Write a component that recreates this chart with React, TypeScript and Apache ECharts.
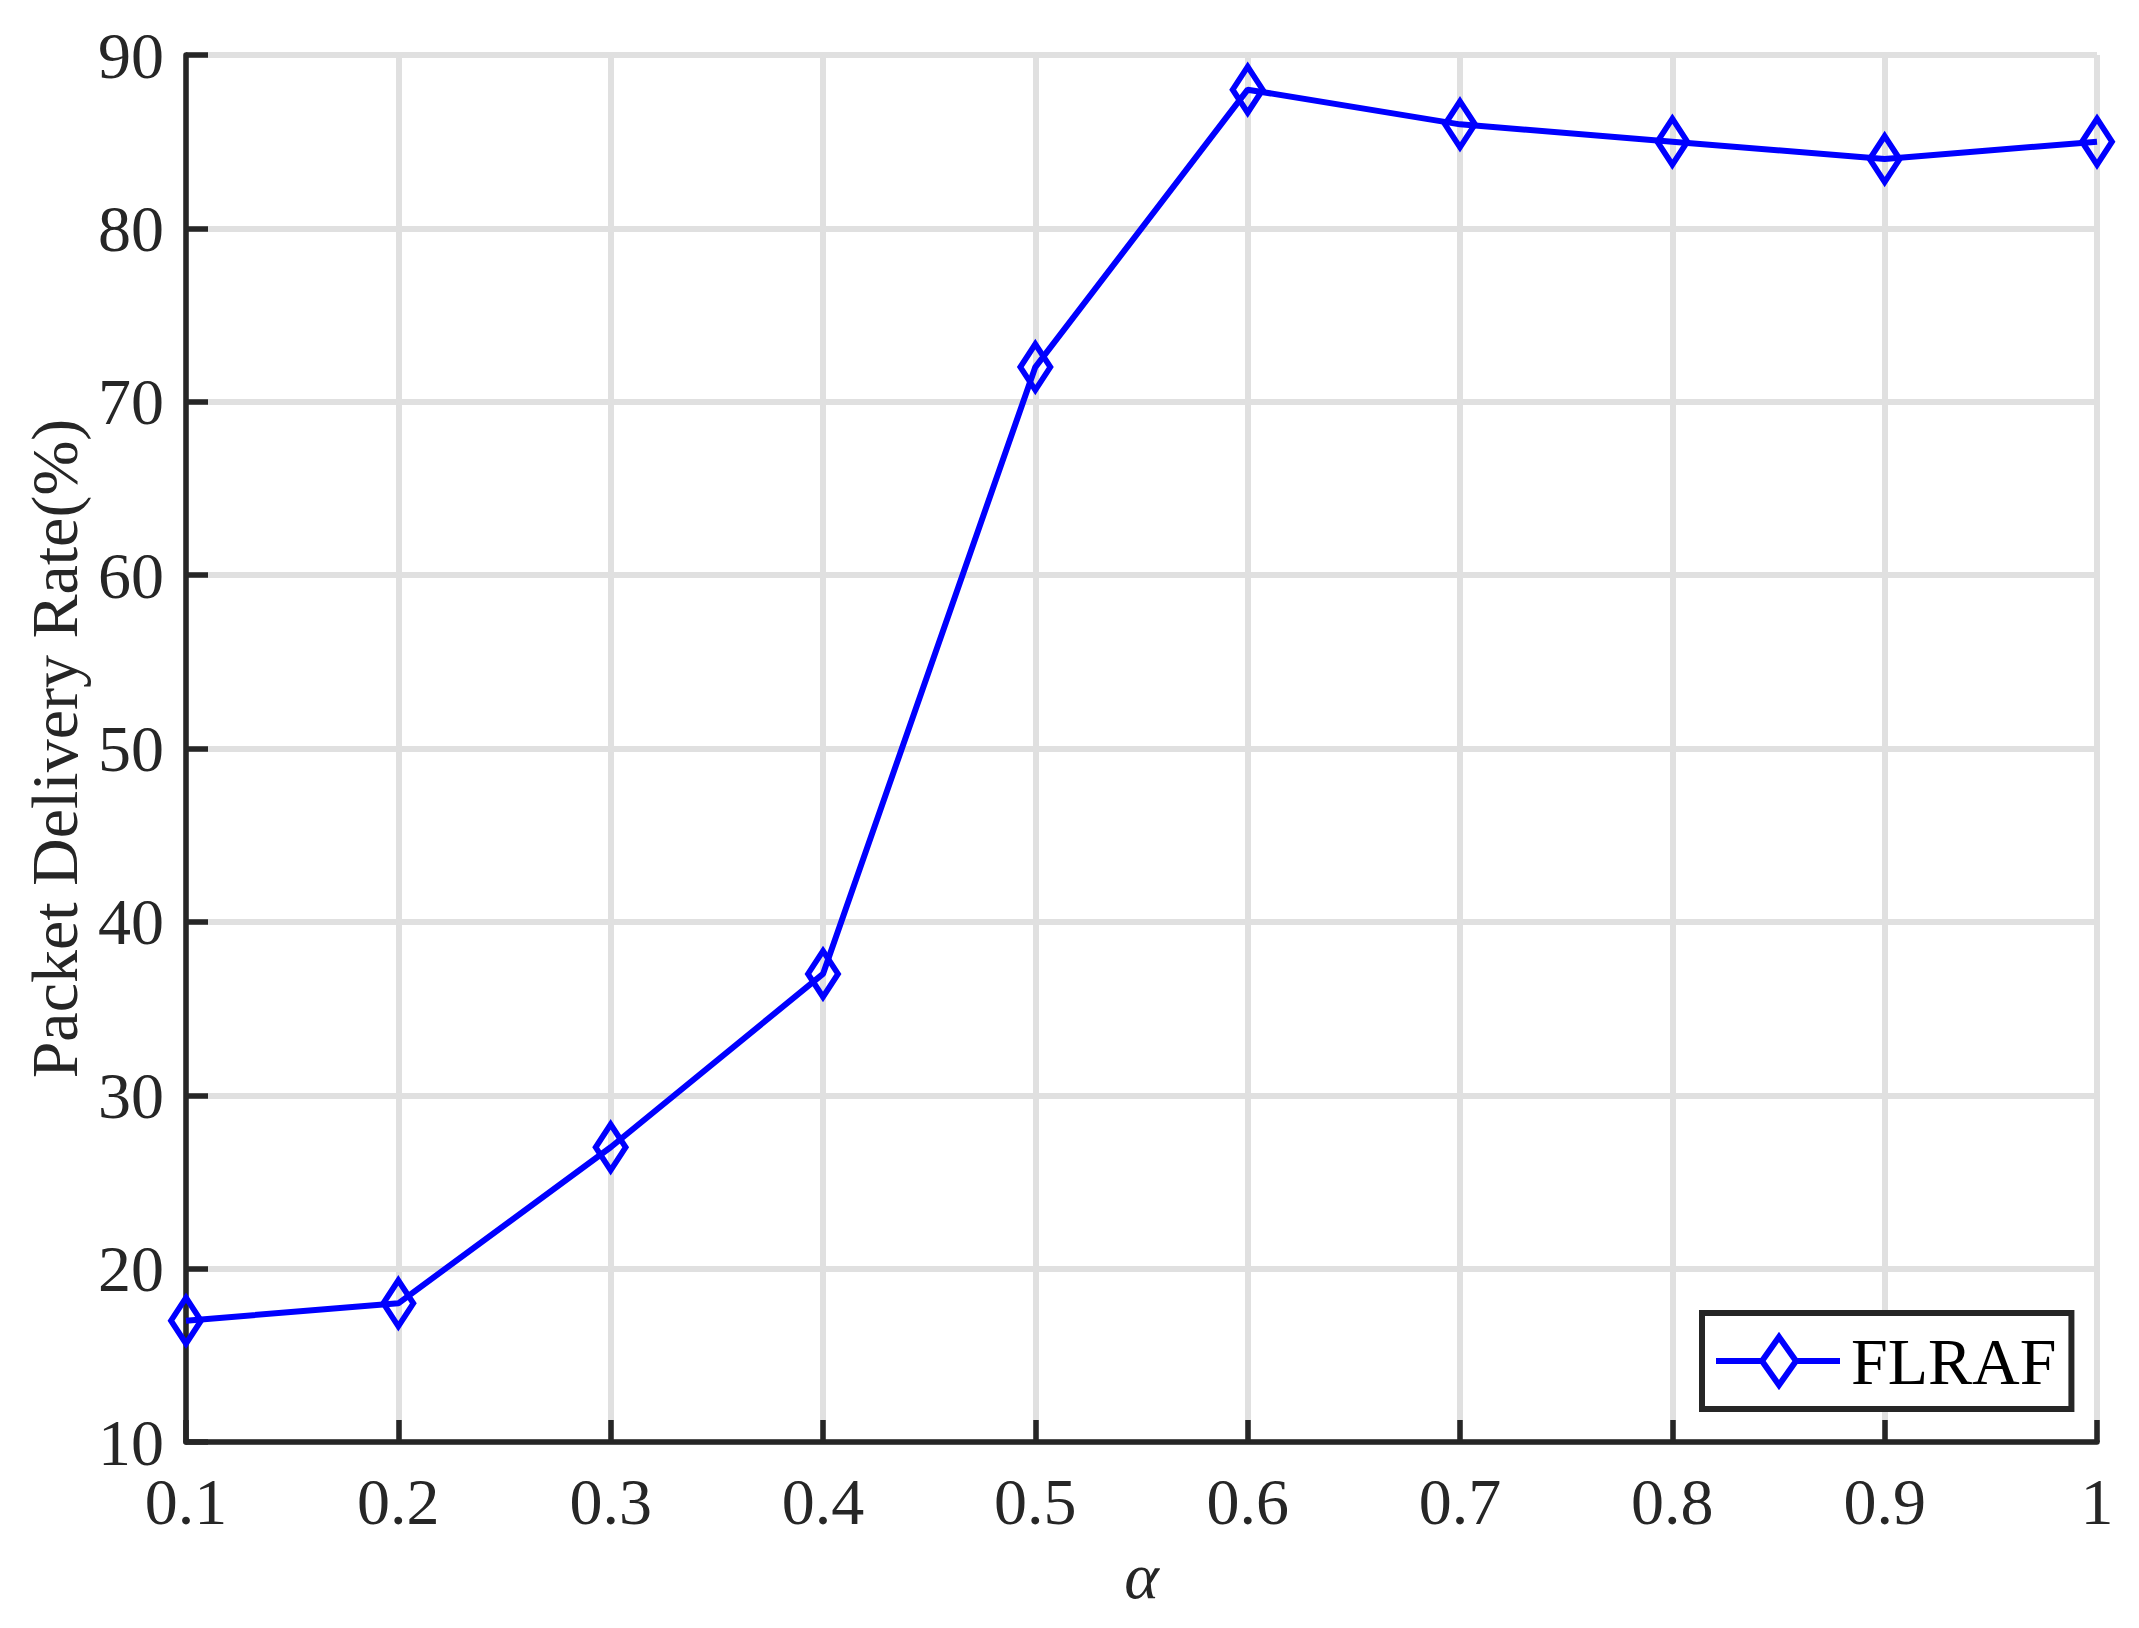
import React, { useEffect, useRef } from 'react';
import * as echarts from 'echarts';

const categories = ['0.1', '0.2', '0.3', '0.4', '0.5', '0.6', '0.7', '0.8', '0.9', '1'];
const flrafValues = [17, 18, 27, 37, 72, 88, 86, 85, 84, 85];
const seriesName = 'FLRAF';
const xAxisName = 'α';
const yAxisName = 'Packet Delivery Rate(%)';
const yMin = 10;
const yMax = 90;
const yInterval = 10;

const FONT = '"Liberation Serif", "Times New Roman", serif';
const AXIS_COLOR = '#262626';
const GRID_COLOR = '#e0e0e0';
const BLUE = '#0000ff';

export default function App() {
  const ref = useRef<HTMLDivElement>(null);

  useEffect(() => {
    document.body.style.margin = '0';
    if (!ref.current) return;
    const chart = echarts.init(ref.current, null, { renderer: 'svg' });
    chart.setOption({
      animation: false,
      backgroundColor: '#ffffff',
      grid: { left: 186, right: 42, top: 55, bottom: 186, containLabel: false },
      legend: {
        show: true,
        left: 1702,
        top: 1313,
        orient: 'horizontal',
        data: [
          {
            name: seriesName,
            icon: 'path://M0,26 L46,26 M63,2 L80,26 L63,50 L46,26 Z M80,26 L124,26',
          },
        ],
        itemWidth: 124,
        itemHeight: 50,
        itemStyle: { color: 'rgba(0,0,0,0)', borderColor: BLUE, borderWidth: 6 },
        padding: [15, 15, 15, 11],
        borderColor: AXIS_COLOR,
        borderWidth: 6,
        backgroundColor: '#ffffff',
        textStyle: {
          fontFamily: FONT,
          fontSize: 66,
          lineHeight: 66,
          color: '#000000',
          padding: [0, 0, 0, 6],
        },
      },
      xAxis: {
        type: 'category',
        data: categories,
        boundaryGap: false,
        name: xAxisName,
        nameLocation: 'middle',
        nameGap: 100,
        nameTextStyle: { fontFamily: FONT, fontSize: 66, fontStyle: 'italic', color: AXIS_COLOR },
        axisLine: { show: true, lineStyle: { color: AXIS_COLOR, width: 5.5 } },
        axisTick: { show: true, inside: true, length: 22, lineStyle: { color: AXIS_COLOR, width: 5.5 } },
        axisLabel: { fontFamily: FONT, fontSize: 66, color: AXIS_COLOR, margin: 26 },
        splitLine: { show: true, lineStyle: { color: GRID_COLOR, width: 6 } },
      },
      yAxis: {
        type: 'value',
        min: yMin,
        max: yMax,
        interval: yInterval,
        name: yAxisName,
        nameLocation: 'middle',
        nameGap: 98,
        nameRotate: 90,
        nameTextStyle: { fontFamily: FONT, fontSize: 66, color: AXIS_COLOR },
        axisLine: { show: true, lineStyle: { color: AXIS_COLOR, width: 5.5 } },
        axisTick: { show: true, inside: true, length: 22, lineStyle: { color: AXIS_COLOR, width: 5.5 } },
        axisLabel: { fontFamily: FONT, fontSize: 66, color: AXIS_COLOR, margin: 22 },
        splitLine: { show: true, lineStyle: { color: GRID_COLOR, width: 6 } },
      },
      series: [
        {
          name: seriesName,
          type: 'line',
          data: flrafValues,
          symbol: 'diamond',
          symbolSize: [30, 46],
          showAllSymbol: true,
          color: BLUE,
          lineStyle: { color: BLUE, width: 6 },
          itemStyle: { color: 'rgba(0,0,0,0)', borderColor: BLUE, borderWidth: 6 },
          z: 3,
        },
      ],
    });
    return () => chart.dispose();
  }, []);

  return (
    <div
      ref={ref}
      style={{ position: 'absolute', left: 0, top: 0, width: 2139, height: 1628 }}
    />
  );
}
